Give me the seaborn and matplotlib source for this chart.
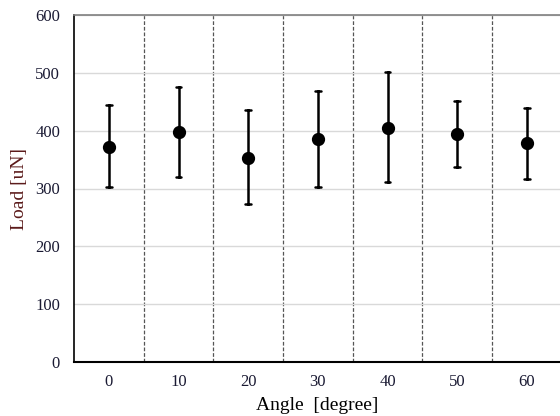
import matplotlib
matplotlib.use('Agg')
import matplotlib.pyplot as plt
import numpy as np
import pandas as pd
import seaborn as sns

angles = ['0', '10', '20', '30', '40', '50', '60']
load_mean = [372, 398, 353, 385, 405, 394, 378]
load_low = [302, 320, 274, 303, 311, 337, 317]
load_high = [444, 476, 436, 469, 501, 451, 439]

# three rows per angle: median gives the mean, 100% interval spans low..high
df = pd.DataFrame({
    'angle': angles * 3,
    'load': load_low + load_mean + load_high,
})

sns.set_style('white')
plt.rcParams['font.family'] = ['Liberation Serif', 'DejaVu Serif']

fig = plt.figure(figsize=(5.6, 4.16), dpi=100)
ax = fig.add_axes([74 / 560, 54 / 416, (560 - 74) / 560, 347 / 416])

sns.pointplot(data=df, x='angle', y='load', order=angles,
              estimator='median', errorbar=('pi', 100),
              linestyle='none', color='black', markersize=7.5,
              err_kws={'linewidth': 1.8}, capsize=0.08, ax=ax)

for i in range(len(angles) - 1):
    ax.axvline(i + 0.5, color='#555555', linestyle=(0, (3, 1.5)), linewidth=0.9, zorder=0)

ax.set_ylim(0, 600)
ax.set_yticks(range(0, 601, 100))
ax.set_xlim(-0.5, 6.476)
ax.yaxis.grid(True, color='#d9d9d9', linewidth=1)
ax.set_axisbelow(True)

ax.spines['left'].set_color('black')
ax.spines['bottom'].set_color('black')
ax.spines['left'].set_linewidth(1.2)
ax.spines['bottom'].set_linewidth(1.5)
ax.spines['top'].set_color('#7f7f7f')
ax.spines['top'].set_linewidth(1.2)
ax.spines['right'].set_visible(False)

ax.tick_params(axis='both', length=0, labelsize=12, labelcolor='#1a1a33')
ax.tick_params(axis='x', pad=9)
ax.tick_params(axis='y', pad=10)
ax.set_xlabel('Angle  [degree]', fontsize=14, color='black', labelpad=5)
ax.set_ylabel('Load [uN]', fontsize=14, color='#5b1a1a', labelpad=5)

fig.savefig('out.png', dpi=100)
